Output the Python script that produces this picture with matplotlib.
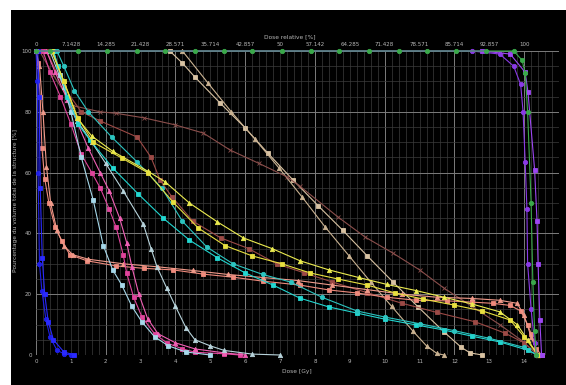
import numpy as np
import matplotlib.pyplot as plt
from matplotlib.patches import Rectangle

# Histogrammes dose-volume cumulés : dose (Gy) / volume (%)
green_dose = [0.0, 0.4, 1.2, 2.05, 2.9, 3.7, 4.55, 5.4, 6.2, 7.06, 7.9, 8.7, 9.55, 10.4, 11.2, 12.05, 12.9, 13.7, 13.94, 14.03, 14.1, 14.2, 14.25, 14.3, 14.35]
green_vol = [100, 100, 100, 100, 100, 100, 100, 100, 100, 100, 100, 100, 100, 100, 100, 100, 100, 100, 97, 92.8, 80, 50, 24, 8, 0]

violet1_dose = [0.0, 12.5, 13.3, 13.7, 13.9, 13.97, 14.03, 14.08, 14.1, 14.2, 14.3, 14.35]
violet1_vol = [100, 100, 99, 95, 89, 80, 63.5, 48, 30, 15, 4, 0]
violet2_dose = [0.0, 12.8, 13.6, 14.03, 14.11, 14.3, 14.37, 14.4, 14.45, 14.5]
violet2_vol = [100, 100, 99, 93, 86.5, 61, 44, 30, 11.5, 0]

blue1_dose = [0.0, 0.04, 0.06, 0.1, 0.17, 0.28, 0.4, 0.6, 0.8, 1.0]
blue1_vol = [100, 90, 60, 30, 21, 12, 6, 1.6, 0.4, 0]
blue2_dose = [0.05, 0.09, 0.12, 0.18, 0.25, 0.35, 0.5, 0.8, 1.1]
blue2_vol = [100, 85, 55, 32, 20, 11, 5, 1, 0]

salmon1_dose = [0.0, 0.05, 0.12, 0.17, 0.25, 0.37, 0.55, 0.74, 0.97, 1.46, 2.3, 3.1, 3.93, 4.8, 5.65, 6.5, 7.57, 8.4, 9.2, 10.06, 10.9, 11.8, 12.5, 13.1, 13.6, 13.9, 14.1, 14.2, 14.35, 14.5]
salmon1_vol = [100, 96, 85, 68, 58, 50, 42, 37.5, 33, 31, 29.3, 28.5, 28, 26.6, 25.6, 24.3, 23, 21.4, 20.4, 19, 18, 17.8, 17.4, 17, 16.3, 14.5, 10, 7, 2, 0]
salmon2_dose = [0.0, 0.1, 0.2, 0.3, 0.42, 0.6, 0.8, 1.05, 1.5, 2.5, 3.5, 4.5, 5.5, 6.5, 7.5, 8.5, 9.5, 10.5, 11.5, 12.5, 13.3, 13.8, 14.0, 14.2, 14.4]
salmon2_vol = [100, 95, 80, 62, 50, 41, 36, 33, 31.5, 30, 29, 27.8, 26.5, 25.5, 24.5, 23, 21.5, 20, 19, 18.6, 18, 17, 13, 6, 0]

magenta1_dose = [0.2, 0.4, 0.7, 1.0, 1.3, 1.6, 1.84, 2.1, 2.3, 2.5, 2.6, 2.8, 3.04, 3.4, 3.75, 4.2, 4.56, 5.4, 5.85]
magenta1_vol = [100, 93, 85, 76, 66, 60, 55, 48, 42, 33, 27, 19, 12.5, 7, 4, 2, 0.9, 0.4, 0]
magenta2_dose = [0.3, 0.55, 0.9, 1.2, 1.5, 1.84, 2.1, 2.4, 2.6, 2.75, 2.95, 3.2, 3.5, 4.0, 4.56, 5.4, 6.0]
magenta2_vol = [100, 93, 84, 76, 68, 60, 54, 45, 37, 29, 20, 12, 7, 4, 2, 0.7, 0]

skyblue1_dose = [0.5, 0.7, 1.0, 1.3, 1.64, 1.93, 2.2, 2.46, 2.75, 3.03, 3.4, 3.8, 4.3, 5.0]
skyblue1_vol = [100, 92, 80, 65, 51, 36, 28, 23, 16, 11, 6, 3, 1, 0]
skyblue2_dose = [0.4, 0.8, 1.18, 1.6, 2.0, 2.5, 3.08, 3.3, 3.47, 3.75, 4.0, 4.3, 4.56, 5.0, 5.4, 6.2, 7.0]
skyblue2_vol = [100, 88, 77, 70, 63, 54, 43, 35, 29, 22, 16, 9, 5, 3, 1.5, 0.3, 0]

cyan1_dose = [0.5, 0.63, 0.9, 1.2, 1.55, 2.2, 2.93, 3.65, 4.4, 5.2, 6.0, 6.8, 7.57, 8.4, 9.2, 10.0, 10.9, 11.7, 12.5, 13.3, 14.1, 14.4]
cyan1_vol = [100, 95, 85, 76, 70.7, 61.5, 53, 45, 37.8, 32, 27, 23, 18.7, 15.8, 13.8, 11.8, 9.9, 8.2, 6.2, 4.3, 1.6, 0]
cyan2_dose = [0.6, 0.8, 1.1, 1.5, 2.17, 2.9, 3.6, 4.2, 4.9, 5.65, 6.5, 7.3, 8.2, 9.2, 10.0, 11.0, 12.0, 13.0, 14.0, 14.35]
cyan2_vol = [100, 95, 87, 80, 71.7, 63.5, 55, 44, 35.5, 30, 26.5, 24, 19, 14.5, 12.5, 10.3, 8, 5.5, 2.5, 0]

yellow1_dose = [0.45, 0.8, 1.18, 1.6, 2.2, 3.2, 3.7, 4.4, 5.2, 5.95, 6.77, 7.57, 8.4, 9.25, 10.07, 10.9, 11.7, 12.5, 13.3, 13.8, 14.1, 14.4]
yellow1_vol = [100, 90, 78, 72, 67, 60.5, 57, 50, 43.8, 38.5, 35, 31, 28, 25.5, 23.2, 21.2, 19, 16.8, 14.2, 10, 5, 0]
yellow2_dose = [0.45, 0.8, 1.2, 1.64, 2.46, 3.2, 3.93, 4.65, 5.42, 6.2, 7.05, 7.86, 8.66, 9.5, 10.3, 11.1, 12.0, 12.8, 13.6, 14.0, 14.4]
yellow2_vol = [100, 90, 78, 70, 64.8, 60, 50.3, 41.8, 36, 32.6, 30, 27, 25, 23, 20.4, 18.4, 16.4, 14.5, 11.5, 6, 0]

brown1_dose = [0.1, 0.5, 1.06, 1.84, 2.3, 3.1, 3.99, 4.8, 5.57, 6.4, 7.2, 7.57, 8.66, 9.44, 10.24, 11.0, 11.7, 12.5, 13.3, 13.9, 14.4]
brown1_vol = [100, 92, 82, 80, 79.5, 78, 75.7, 73, 67.4, 63, 58.6, 55.5, 45.4, 38.8, 33.5, 28, 22, 16, 10, 5, 0]
brown2_dose = [0.3, 0.8, 1.3, 1.84, 2.9, 3.3, 3.56, 3.9, 4.5, 5.3, 6.1, 6.9, 7.7, 8.5, 9.5, 10.5, 11.5, 12.6, 13.45, 14.0, 14.4]
brown2_vol = [100, 88, 80, 77, 71.7, 65, 57.5, 52, 44, 38.5, 35, 30, 27, 24, 20.5, 17, 14, 10.9, 7.2, 4, 0]

tan1_dose = [3.84, 4.2, 4.56, 5.28, 6.0, 6.65, 7.37, 8.1, 8.8, 9.5, 10.24, 10.96, 11.7, 12.2, 12.45, 12.8]
tan1_vol = [100, 96, 91.4, 82.9, 74.7, 66.4, 57.6, 49, 41, 32.6, 24, 15.8, 7.6, 2.5, 0.7, 0]
tan2_dose = [4.2, 4.93, 5.6, 6.28, 6.97, 7.63, 8.3, 8.98, 9.6, 10.2, 10.8, 11.2, 11.5, 11.7]
tan2_vol = [100, 89.5, 80, 71, 61.5, 52, 42, 32.6, 24, 16, 8, 3, 0.5, 0]

dose_ticks = list(range(15))
rel_labels = ["0", "7.1428", "14.285", "21.428", "28.571", "35.714", "42.857", "50",
              "57.142", "64.285", "71.428", "78.571", "85.714", "92.857", "100"]
vol_ticks = [0, 20, 40, 60, 80, 100]

curves = [
    (tan1_dose, tan1_vol, "#d9c3a3", "s"),
    (tan2_dose, tan2_vol, "#cbb392", "^"),
    (brown1_dose, brown1_vol, "#8c4f4c", "x"),
    (brown2_dose, brown2_vol, "#9c4a46", "s"),
    (salmon1_dose, salmon1_vol, "#ee8a7c", "s"),
    (salmon2_dose, salmon2_vol, "#f09a8a", "^"),
    (magenta1_dose, magenta1_vol, "#e0449c", "s"),
    (magenta2_dose, magenta2_vol, "#f060b4", "^"),
    (skyblue1_dose, skyblue1_vol, "#a6d8ea", "s"),
    (skyblue2_dose, skyblue2_vol, "#b8d4dc", "^"),
    (cyan1_dose, cyan1_vol, "#22d6d0", "s"),
    (cyan2_dose, cyan2_vol, "#2cc4c0", "o"),
    (yellow1_dose, yellow1_vol, "#ecec50", "^"),
    (yellow2_dose, yellow2_vol, "#e8e040", "s"),
    (blue1_dose, blue1_vol, "#1f1fe8", "o"),
    (blue2_dose, blue2_vol, "#2a2aff", "s"),
    (violet1_dose, violet1_vol, "#8a3ae6", "o"),
    (violet2_dose, violet2_vol, "#9c46f2", "s"),
    (green_dose, green_vol, "#3aa84a", "o"),
]

fig = plt.figure(figsize=(5.66, 3.85), dpi=100)
fig.patch.set_facecolor("white")
fig.patches.append(Rectangle((11 / 566, 0), 555 / 566, 375 / 385, transform=fig.transFigure,
                             facecolor="black", edgecolor="none", zorder=-10))

ax = fig.add_axes([36 / 566, 30 / 385, 523 / 566, 304 / 385])
ax.set_facecolor("black")
ax.set_xlim(0, 15)
ax.set_ylim(0, 100)
for s in ax.spines.values():
    s.set_visible(False)

# grille fine + grille principale
for x in np.arange(0, 15.01, 0.2):
    major = abs(x / 2 - round(x / 2)) < 1e-6
    ax.axvline(x, color="#7c7c7c" if major else "#3c3c3c", lw=0.7 if major else 0.5, zorder=1)
for y in range(0, 101, 5):
    major = y % 20 == 0
    ax.axhline(y, color="#7c7c7c" if major else "#3c3c3c", lw=0.7 if major else 0.5, zorder=1)

for d, v, c, m in curves:
    ax.plot(d, v, color=c, lw=0.8, marker=m, markersize=3.1, markeredgewidth=0.6,
            clip_on=False, zorder=3)

ax.set_xticks(dose_ticks)
ax.set_yticks(vol_ticks)
ax.tick_params(length=0, labelsize=4, colors="#b8b8b8", pad=3)

top = ax.secondary_xaxis("top")
top.set_xticks(dose_ticks, labels=rel_labels)
top.tick_params(length=0, labelsize=4, colors="#b8b8b8", pad=3)
for s in top.spines.values():
    s.set_visible(False)

fig.text(290 / 566, 1 - 37 / 385, "Dose relative [%]", color="#b8b8b8", fontsize=4.2,
         ha="center", va="center")
fig.text(297 / 566, 1 - 371 / 385, "Dose [Gy]", color="#b8b8b8", fontsize=4.2,
         ha="center", va="center")
fig.text(16 / 566, 1 - 200 / 385, "Pourcentage du volume total de la structure [%]",
         color="#b8b8b8", fontsize=4.2, rotation=90, ha="center", va="center")

fig.savefig("out.png", dpi=100, facecolor=fig.get_facecolor())
